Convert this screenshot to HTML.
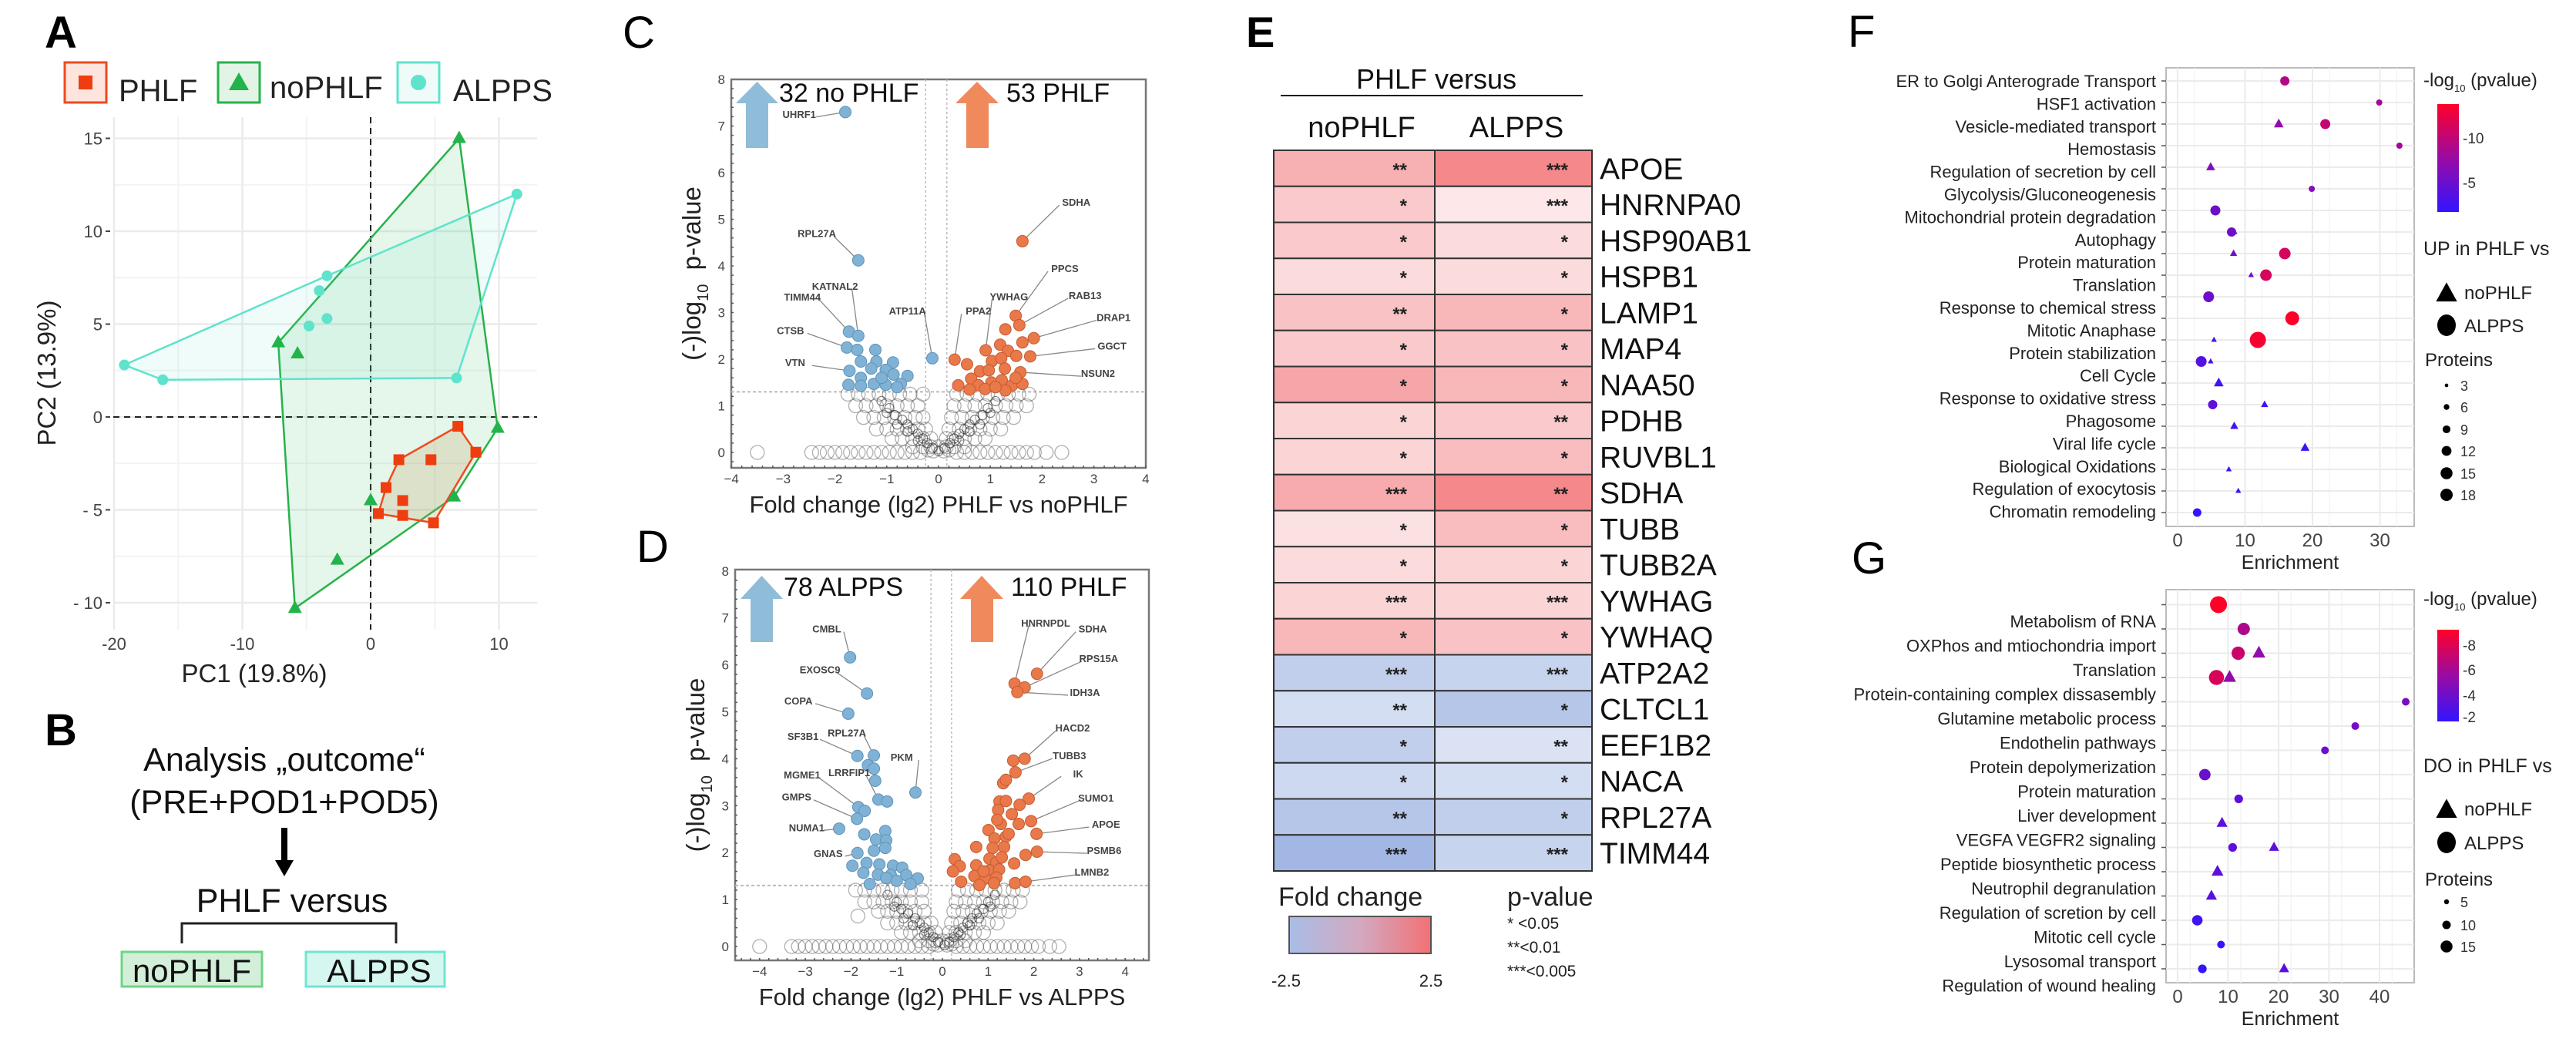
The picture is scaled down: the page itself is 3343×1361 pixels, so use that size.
<!DOCTYPE html>
<html><head><meta charset="utf-8">
<style>
html,body{margin:0;padding:0;background:#fff;}
svg{display:block;font-family:"Liberation Sans",Arial,sans-serif;}
</style></head>
<body>
<svg id="fig" xmlns="http://www.w3.org/2000/svg" width="3343" height="1361" viewBox="0 0 3343 1361">
<rect x="0" y="0" width="3343" height="1361" fill="#fff"/>
<text x="58" y="62" font-size="58" font-weight="bold">A</text>
<text x="58" y="967" font-size="58" font-weight="bold">B</text>
<text x="808" y="62" font-size="58">C</text>
<text x="826" y="729" font-size="58">D</text>
<text x="1617" y="61" font-size="56" font-weight="bold">E</text>
<text x="2398" y="61" font-size="58">F</text>
<text x="2403" y="744" font-size="58">G</text>

<g>
<rect x="84" y="81" width="54" height="52" fill="#fde4dc" stroke="#ee4a1f" stroke-width="3"/>
<rect x="102" y="98" width="18" height="18" fill="#ee3d0f"/>
<text x="154" y="131" font-size="40" fill="#222">PHLF</text>
<rect x="283" y="81" width="54" height="52" fill="#e2f4e6" stroke="#27b24a" stroke-width="3"/>
<polygon points="310,94 297,117 323,117" fill="#22b34a"/>
<text x="350" y="127" font-size="40" fill="#222">noPHLF</text>
<rect x="516" y="81" width="54" height="52" fill="#eefbf8" stroke="#5fe3cc" stroke-width="3"/>
<circle cx="543" cy="107" r="10" fill="#5fe3cc"/>
<text x="588" y="131" font-size="40" fill="#222">ALPPS</text>
</g>
<g id="pcaPlot"></g>
<text x="330" y="885" font-size="33" fill="#222" text-anchor="middle">PC1 (19.8%)</text>
<text transform="translate(72,484) rotate(-90)" font-size="33" fill="#222" text-anchor="middle">PC2 (13.9%)</text>

<g>
<text x="369" y="1000" font-size="43" fill="#111" text-anchor="middle">Analysis „outcome“</text>
<text x="369" y="1055" font-size="43" fill="#111" text-anchor="middle">(PRE+POD1+POD5)</text>
<rect x="365" y="1074" width="8" height="44" fill="#000"/>
<polygon points="357,1116 381,1116 369,1137" fill="#000"/>
<text x="379" y="1183" font-size="43" fill="#111" text-anchor="middle">PHLF versus</text>
<polyline points="236,1224 236,1198 514,1198 514,1224" fill="none" stroke="#222" stroke-width="3"/>
<rect x="158" y="1235" width="182" height="45" fill="#d3efd9" stroke="#6fd486" stroke-width="3"/>
<text x="249" y="1274" font-size="42" fill="#111" text-anchor="middle">noPHLF</text>
<rect x="397" y="1235" width="180" height="45" fill="#d6f6f0" stroke="#6fe6d2" stroke-width="3"/>
<text x="492" y="1274" font-size="42" fill="#111" text-anchor="middle">ALPPS</text>
</g>

<g id="volC"></g>
<g id="volD"></g>

<text x="1864" y="115" font-size="36" fill="#111" text-anchor="middle">PHLF versus</text>
<line x1="1662" y1="124" x2="2054" y2="124" stroke="#111" stroke-width="2"/>
<g id="heat"></g>
<defs>
<linearGradient id="fcgrad" x1="0" x2="1" y1="0" y2="0"><stop offset="0" stop-color="#a9bde6"/><stop offset="0.5" stop-color="#d3a9c0"/><stop offset="1" stop-color="#f27175"/></linearGradient>
<linearGradient id="pgrad" x1="0" x2="0" y1="1" y2="0"><stop offset="0" stop-color="#3214ff"/><stop offset="0.5" stop-color="#9a0aa4"/><stop offset="1" stop-color="#ff0028"/></linearGradient>
</defs>
<g>
<text x="1659" y="1175" font-size="34" fill="#222">Fold change</text>
<rect x="1673" y="1189" width="184" height="48" fill="url(#fcgrad)" stroke="#555" stroke-width="2"/>
<text x="1669" y="1280" font-size="22" fill="#222" text-anchor="middle">-2.5</text>
<text x="1857" y="1280" font-size="22" fill="#222" text-anchor="middle">2.5</text>
</g>
<g>
<text x="1956" y="1175" font-size="34" fill="#222">p-value</text>
<text x="1956" y="1205" font-size="21" fill="#222">* &lt;0.05</text>
<text x="1956" y="1236" font-size="21" fill="#222">**&lt;0.01</text>
<text x="1956" y="1267" font-size="21" fill="#222">***&lt;0.005</text>
</g>

<g id="dotF"></g>
<g id="dotG"></g>
</svg>

<script>
const pcaPhlfX = [6.8, 8.2, 2.2, 4.7, 1.2, 2.5, 0.6, 2.5, 4.9];
const pcaPhlfY = [-0.5, -1.9, -2.3, -2.3, -3.8, -4.5, -5.2, -5.3, -5.7];
const pcaNoX = [6.9, -7.2, -5.7, 9.9, 0.0, 6.5, -2.6, -5.9];
const pcaNoY = [15.0, 4.0, 3.4, -0.6, -4.5, -4.3, -7.7, -10.3];
const pcaAlX = [-19.2, -16.2, -3.4, -4.0, -3.4, -4.8, 6.7, 11.4];
const pcaAlY = [2.8, 2.0, 7.6, 6.8, 5.3, 4.9, 2.1, 12.0];
const hullPhlf = [0, 1, 8, 6, 4, 2];
const hullNo = [0, 3, 5, 7, 1];
const hullAl = [0, 2, 7, 6, 1];
const pcaXTicks = [-20, -10, 0, 10];
const pcaYTicks = [-10, -5, 0, 5, 10, 15];

const cBlue = [[-1.8,7.3],[-1.55,4.12],[-1.73,2.59],[-1.55,2.5],[-1.77,2.25],[-1.57,2.2],[-1.22,2.2],[-1.5,1.95],[-1.2,1.95],[-0.88,1.93],[-1.72,1.75],[-1.3,1.8],[-1.02,1.77],[-1.5,1.6],[-0.87,1.67],[-0.6,1.64],[-1.74,1.45],[-1.5,1.43],[-1.25,1.47],[-1.02,1.45],[-0.73,1.47],[-0.12,2.02],[-1.1,1.6],[-0.8,1.4]];
const cOrange = [[1.62,4.53],[1.49,2.93],[1.56,2.73],[1.29,2.64],[1.84,2.45],[1.62,2.36],[1.19,2.31],[0.91,2.19],[1.34,2.18],[1.5,2.07],[1.77,2.06],[0.31,1.99],[1.03,1.96],[1.21,2.02],[0.55,1.89],[1.28,1.8],[0.8,1.74],[0.97,1.76],[1.58,1.72],[0.38,1.44],[0.63,1.58],[0.77,1.44],[1.02,1.5],[1.22,1.55],[1.42,1.44],[1.62,1.47],[0.9,1.36],[1.29,1.33],[1.49,1.6],[1.1,1.4],[0.6,1.35]];
const cGray = [[-3.5,0],[-2.45,0],[-2.3,0],[-2.15,0],[-2.0,0],[-1.85,0],[-1.7,0],[-1.55,0],[-1.4,0],[-1.25,0],[-1.1,0],[-0.95,0],[-0.8,0],[-0.65,0],[-0.5,0],[-0.35,0],[0.35,0],[0.5,0],[0.65,0],[0.8,0],[0.95,0],[1.1,0],[1.25,0],[1.4,0],[1.55,0],[1.7,0],[1.85,0],[2.08,0],[2.38,0],
[-1.75,1.25],[-1.55,1.25],[-1.35,1.25],[-1.15,1.25],[-0.95,1.25],[-0.75,1.25],[-0.55,1.25],[-0.3,1.25],[0.35,1.25],[0.55,1.25],[0.75,1.25],[0.95,1.25],[1.15,1.25],[1.35,1.25],[1.55,1.25],[1.75,1.25],
[-1.6,1.0],[-1.4,1.0],[-1.2,1.0],[-1.0,1.0],[-0.8,1.0],[-0.6,1.0],[-0.4,1.0],[0.3,1.0],[0.5,1.0],[0.7,1.0],[0.9,1.0],[1.1,1.0],[1.3,1.0],[1.5,1.0],[1.7,1.0],
[-1.45,0.75],[-1.25,0.75],[-1.05,0.75],[-0.85,0.75],[-0.65,0.75],[-0.45,0.75],[-0.3,0.75],[0.25,0.75],[0.45,0.75],[0.65,0.75],[0.85,0.75],[1.05,0.75],[1.25,0.75],[1.45,0.75],
[-1.2,0.5],[-1.0,0.5],[-0.8,0.5],[-0.6,0.5],[-0.4,0.5],[-0.25,0.5],[0.2,0.5],[0.4,0.5],[0.6,0.5],[0.8,0.5],[1.0,0.5],[1.2,0.5],
[-0.9,0.3],[-0.7,0.3],[-0.5,0.3],[-0.3,0.3],[-0.15,0.3],[0.15,0.3],[0.3,0.3],[0.5,0.3],[0.7,0.3],[0.9,0.3],
[-0.5,0.12],[-0.3,0.12],[-0.15,0.12],[0,0.12],[0.15,0.12],[0.3,0.12],[0.5,0.12],[-0.2,0.05],[-0.1,0.03],[0.1,0.03],[0.2,0.05]];
const cCore = [[-1.1,1.1],[-0.95,0.95],[-0.85,0.8],[-0.7,0.7],[-0.6,0.6],[-0.5,0.5],[-0.4,0.4],[-0.3,0.3],[-0.22,0.2],[-0.12,0.1],[0,0.03],[0.12,0.1],[0.22,0.2],[0.3,0.3],[0.4,0.4],[0.5,0.5],[0.6,0.6],[0.7,0.7],[0.85,0.8],[0.95,0.95],[1.1,1.1],[-0.6,0.45],[0.6,0.45],[-0.4,0.25],[0.4,0.25],[-0.8,0.6],[0.8,0.6],[-1.0,0.85],[1.0,0.85]];
const cLabText = ["UHRF1","RPL27A","KATNAL2","TIMM44","CTSB","VTN","ATP11A","PPA2","YWHAG","PPCS","RAB13","DRAP1","GGCT","NSUN2","SDHA"];
const cLabX = [-2.69,-2.35,-2.0,-2.63,-2.86,-2.77,-0.6,0.77,1.36,2.44,2.83,3.38,3.35,3.08,2.66];
const cLabY = [7.26,4.7,3.57,3.34,2.62,1.93,3.04,3.04,3.35,3.95,3.37,2.9,2.29,1.7,5.37];
const cTgtX = [-1.8,-1.55,-1.55,-1.73,-1.77,-1.72,-0.12,0.31,0.91,1.49,1.56,1.84,1.77,1.58,1.62];
const cTgtY = [7.3,4.12,2.5,2.59,2.25,1.75,2.02,1.99,2.19,2.93,2.73,2.45,2.06,1.72,4.53];

const dBlue = [[-2.02,6.16],[-1.65,5.39],[-2.06,4.96],[-1.86,4.06],[-1.5,4.07],[-1.63,3.86],[-1.5,3.79],[-1.47,3.53],[-1.4,3.13],[-1.21,3.09],[-0.59,3.28],[-1.84,2.97],[-1.7,2.89],[-1.87,2.72],[-2.26,2.51],[-1.71,2.39],[-1.25,2.46],[-1.45,2.28],[-1.23,2.26],[-1.86,1.99],[-1.5,2.04],[-1.25,2.1],[-1.97,1.72],[-1.66,1.78],[-1.38,1.75],[-1.08,1.72],[-0.88,1.68],[-1.73,1.57],[-1.41,1.53],[-1.13,1.52],[-0.79,1.52],[-0.54,1.45],[-1.59,1.33],[-0.7,1.33],[-1.23,1.46],[-1.0,1.4]];
const dOrange = [[1.58,5.6],[2.07,5.81],[1.8,5.52],[1.64,5.42],[1.55,3.96],[1.8,4.0],[1.6,3.71],[1.33,3.48],[1.39,3.55],[1.89,3.15],[1.25,3.09],[1.39,3.1],[1.69,3.02],[1.22,2.91],[1.52,2.82],[1.94,2.67],[1.67,2.61],[1.01,2.48],[1.28,2.61],[2.06,2.4],[1.14,2.3],[1.39,2.34],[0.74,2.12],[1.1,2.1],[1.35,2.12],[2.07,2.02],[1.82,1.95],[0.27,1.86],[1.03,1.87],[1.18,1.79],[1.57,1.77],[0.38,1.71],[0.74,1.73],[0.23,1.6],[1.03,1.62],[1.24,1.64],[0.7,1.5],[0.94,1.45],[1.18,1.47],[0.41,1.38],[1.59,1.35],[1.82,1.38],[0.81,1.31],[1.13,1.35],[1.3,1.9],[0.9,1.6],[1.45,2.4],[1.2,2.7]];
const dGray = [[-4.0,0],[-3.3,0],[-3.15,0],[-3.0,0],[-2.85,0],[-2.7,0],[-2.55,0],[-2.4,0],[-2.25,0],[-2.1,0],[-1.95,0],[-1.8,0],[-1.65,0],[-1.5,0],[-1.35,0],[-1.2,0],[-1.05,0],[-0.9,0],[-0.75,0],[-0.6,0],[-0.45,0],[-0.3,0],[0.3,0],[0.45,0],[0.6,0],[0.75,0],[0.9,0],[1.05,0],[1.2,0],[1.35,0],[1.5,0],[1.65,0],[1.8,0],[1.95,0],[2.1,0],[2.35,0],[2.55,0],
[-1.9,1.2],[-1.7,1.2],[-1.5,1.2],[-1.3,1.2],[-1.1,1.2],[-0.9,1.2],[-0.7,1.2],[-0.45,1.2],[0.35,1.2],[0.55,1.2],[0.75,1.2],[0.95,1.2],[1.15,1.2],[1.35,1.2],[1.55,1.2],[1.75,1.2],
[-1.7,0.95],[-1.5,0.95],[-1.3,0.95],[-1.1,0.95],[-0.9,0.95],[-0.7,0.95],[-0.45,0.95],[0.3,0.95],[0.5,0.95],[0.7,0.95],[0.9,0.95],[1.1,0.95],[1.3,0.95],[1.5,0.95],[1.7,0.95],
[-1.85,0.65],[-1.4,0.75],[-1.2,0.75],[-1.0,0.75],[-0.8,0.75],[-0.6,0.75],[-0.4,0.75],[0.25,0.75],[0.45,0.75],[0.65,0.75],[0.85,0.75],[1.05,0.75],[1.25,0.75],[1.45,0.75],
[-1.2,0.5],[-1.0,0.5],[-0.8,0.5],[-0.6,0.5],[-0.4,0.5],[-0.25,0.5],[0.2,0.5],[0.4,0.5],[0.6,0.5],[0.8,0.5],[1.0,0.5],[1.2,0.5],
[-0.9,0.3],[-0.7,0.3],[-0.5,0.3],[-0.3,0.3],[-0.15,0.3],[0.15,0.3],[0.3,0.3],[0.5,0.3],[0.7,0.3],[0.9,0.3],
[-0.5,0.12],[-0.3,0.12],[-0.15,0.12],[0,0.12],[0.15,0.12],[0.3,0.12],[0.5,0.12],[-0.2,0.05],[-0.1,0.03],[0.1,0.03],[0.2,0.05]];
const dCore = [[-1.2,1.1],[-1.0,0.95],[-0.9,0.8],[-0.75,0.7],[-0.6,0.6],[-0.5,0.5],[-0.4,0.4],[-0.3,0.3],[-0.2,0.2],[-0.1,0.1],[0.05,0.03],[0.15,0.1],[0.25,0.2],[0.35,0.3],[0.45,0.4],[0.55,0.5],[0.65,0.6],[0.75,0.7],[0.9,0.8],[1.0,0.95],[1.15,1.1],[-0.65,0.45],[0.6,0.45],[-0.4,0.25],[0.4,0.25],[-0.85,0.6],[0.8,0.6],[-1.05,0.85],[1.05,0.85]];
const dLabText = ["CMBL","EXOSC9","COPA","SF3B1","RPL27A","MGME1","LRRFIP1","GMPS","NUMA1","GNAS","PKM","HNRNPDL","SDHA","RPS15A","IDH3A","HACD2","TUBB3","IK","SUMO1","APOE","PSMB6","LMNB2"];
const dLabX = [-2.53,-2.68,-3.15,-3.05,-2.09,-3.07,-2.04,-3.19,-2.97,-2.5,-0.89,2.26,3.29,3.42,3.12,2.85,2.78,2.97,3.36,3.58,3.54,3.27];
const dLabY = [6.77,5.9,5.24,4.48,4.56,3.66,3.71,3.19,2.54,1.99,4.04,6.9,6.77,6.14,5.42,4.66,4.07,3.69,3.17,2.61,2.05,1.59];
const dTgtX = [-2.02,-1.65,-2.06,-1.86,-1.5,-1.84,-1.4,-1.87,-2.26,-1.86,-0.59,1.58,2.07,1.8,1.64,1.8,1.6,1.89,1.94,2.06,2.07,1.82];
const dTgtY = [6.16,5.39,4.96,4.06,4.07,2.97,3.13,2.72,2.51,1.99,3.28,5.6,5.81,5.52,5.42,4.0,3.71,3.15,2.67,2.4,2.02,1.38];
const volXTicks = [-4,-3,-2,-1,0,1,2,3,4];
const volYTicks = [0,1,2,3,4,5,6,7,8];

const heatGenes = ["APOE","HNRNPA0","HSP90AB1","HSPB1","LAMP1","MAP4","NAA50","PDHB","RUVBL1","SDHA","TUBB","TUBB2A","YWHAG","YWHAQ","ATP2A2","CLTCL1","EEF1B2","NACA","RPL27A","TIMM44"];
const heatNoPHLF = [1.3,0.9,0.9,0.6,1.0,0.9,1.5,0.7,0.7,1.4,0.5,0.6,0.7,1.2,-1.0,-0.7,-1.0,-0.8,-1.2,-1.5];
const heatALPPS = [2.0,0.4,0.6,0.6,1.2,1.0,1.2,0.9,1.1,2.0,1.1,0.7,0.7,1.0,-0.9,-1.2,-0.6,-0.7,-1.0,-0.9];
const starsNoPHLF = ["**","*","*","*","**","*","*","*","*","***","*","*","***","*","***","**","*","*","**","***"];
const starsALPPS = ["***","***","*","*","*","*","*","**","*","**","*","*","***","*","***","*","**","*","*","***"];

const fTerms = ["ER to Golgi Anterograde Transport","HSF1 activation","Vesicle-mediated transport","Hemostasis","Regulation of secretion by cell","Glycolysis/Gluconeogenesis","Mitochondrial protein degradation","Autophagy","Protein maturation","Translation","Response to chemical stress","Mitotic Anaphase","Protein stabilization","Cell Cycle","Response to oxidative stress","Phagosome","Viral life cycle","Biological Oxidations","Regulation of exocytosis","Chromatin remodeling"];
const fRow = [0,1,2,2,3,4,5,6,7,7,8,8,9,9,10,11,12,12,13,13,14,15,15,16,17,18,19,20];
const fEnrich = [15.9,29.9,15.0,21.9,32.9,4.9,19.9,5.6,8.0,8.4,8.3,15.9,10.9,13.1,4.6,17.0,5.4,11.9,3.5,4.9,6.1,5.2,12.9,8.4,18.9,7.6,9.0,2.9];
const fShape = ["c","c","t","c","c","t","c","c","c","t","t","c","t","c","c","c","t","c","c","t","t","c","t","t","t","t","t","c"];
const fLogP = [9,8,7,10,8,6,6,5,5,5,5,11,5,11,5,13.5,3,13,3.5,3,2.5,4,2.5,2.5,2,2,2,1.5];
const fProteins = [8,4,8,9,4,7,4,9,8,4,5,11,3,11,10,14,3,17,10,3,8,8,5,6,7,3,3,7];
const fXTicks = [0,10,20,30];

const gTerms = ["Metabolism of RNA","OXPhos and mtiochondria import","Translation","Protein-containing complex dissasembly","Glutamine metabolic process","Endothelin pathways","Protein depolymerization","Protein maturation","Liver development","VEGFA VEGFR2 signaling","Peptide biosynthetic process","Neutrophil degranulation","Regulation of scretion by cell","Mitotic cell cycle","Lysosomal transport","Regulation of wound healing"];
const gRow = [0,1,2,2,3,3,4,5,6,7,8,9,10,10,11,12,13,14,15,15];
const gEnrich = [8.1,13.1,12.0,16.1,7.7,10.3,45.2,35.2,29.2,5.4,12.1,8.8,10.9,19.1,7.9,6.7,3.9,8.6,4.9,21.1];
const gShape = ["c","c","c","t","c","t","c","c","c","c","c","t","c","t","t","t","c","c","c","t"];
const gLogP = [9,6,7,5,7.5,5,4,4,3.5,3.5,3,3,3,3,3,3,2,1.5,1.5,3];
const gProteins = [15,10,11,10,13,10,5,5,5,9,6,8,6,7,9,8,8,5,6,7];
const gXTicks = [0,10,20,30,40];

const NS = "http://www.w3.org/2000/svg";
function mk(tag, attrs, parent){
  const e = document.createElementNS(NS, tag);
  for (const k in attrs) e.setAttribute(k, attrs[k]);
  parent.appendChild(e);
  return e;
}
function txt(str, attrs, parent){
  const e = mk("text", attrs, parent);
  e.textContent = str;
  return e;
}

(function(){
  const g = document.getElementById("pcaPlot");
  const L=147,R=697,T=152,B=817;
  const sx=v=>481+v*16.65, sy=v=>541-v*24.1;
  const bg = mk("rect",{x:L,y:T,width:R-L,height:B-T,fill:"#fff"},g);
  
  
  [-15,-5,5].forEach(v=>{
    const l=mk("line",{x1:sx(v),x2:sx(v),y1:T,y2:B,stroke:"#f3f3f3","stroke-width":2},g);
    
    
  });
  [-7.5,-2.5,2.5,7.5,12.5].forEach(v=>{
    const l=mk("line",{x1:L,x2:R,y1:sy(v),y2:sy(v),stroke:"#f3f3f3","stroke-width":2},g);
    
    
  });
  pcaXTicks.forEach(v=>{
    const l=mk("line",{x1:sx(v),x2:sx(v),y1:T,y2:B,stroke:"#ebebeb","stroke-width":2.5},g);
    
    
    const t=txt(String(v),{x:sx(v),y:843,"font-size":22,fill:"#444","text-anchor":"middle"},g);
    
    
  });
  pcaYTicks.forEach(v=>{
    const l=mk("line",{x1:L,x2:R,y1:sy(v),y2:sy(v),stroke:"#ebebeb","stroke-width":2.5},g);
    
    
    const tk=mk("line",{x1:L-10,x2:L-4,y1:sy(v),y2:sy(v),stroke:"#444","stroke-width":2},g);
    
    
    const t=txt(String(v).replace("-","- "),{x:L-14,y:sy(v)+8,"font-size":22,fill:"#444","text-anchor":"end"},g);
    
    
  });
  const d1=mk("line",{x1:sx(0),x2:sx(0),y1:T,y2:B,stroke:"#222","stroke-width":2,"stroke-dasharray":"8,6"},g);
  
  
  const d2=mk("line",{x1:L,x2:R,y1:sy(0),y2:sy(0),stroke:"#222","stroke-width":2,"stroke-dasharray":"8,6"},g);
  
  
  function hull(xs,ys,idx,fill,stroke,name){
    const pts=idx.map(i=>sx(xs[i])+","+sy(ys[i])).join(" ");
    const p=mk("polygon",{points:pts,fill:fill,stroke:stroke,"stroke-width":2.5},g);
    
    
  }
  hull(pcaNoX,pcaNoY,hullNo,"rgba(40,180,80,0.12)","#27b24a","hull-nophlf");
  hull(pcaAlX,pcaAlY,hullAl,"rgba(95,224,200,0.10)","#5fe3cc","hull-alpps");
  hull(pcaPhlfX,pcaPhlfY,hullPhlf,"rgba(190,150,90,0.22)","#ee4a1f","hull-phlf");
  pcaAlX.forEach((v,i)=>{
    const c=mk("circle",{cx:sx(v),cy:sy(pcaAlY[i]),r:7,fill:"#5fe3cc"},g);
    
    
  });
  pcaNoX.forEach((v,i)=>{
    const x=sx(v),y=sy(pcaNoY[i]);
    const p=mk("polygon",{points:`${x},${y-10} ${x-9},${y+6} ${x+9},${y+6}`,fill:"#22b34a"},g);
    
    
  });
  pcaPhlfX.forEach((v,i)=>{
    const r=mk("rect",{x:sx(v)-7,y:sy(pcaPhlfY[i])-7,width:14,height:14,fill:"#ee3d0f"},g);
    
    
  });
})();

function drawVolcano(o){
  const g=document.getElementById(o.id);
  const sx=v=>o.x0+v*o.kx, sy=v=>o.y0-v*o.ky;
  const fr=mk("rect",{x:o.L,y:o.T,width:o.R-o.L,height:o.B-o.T,fill:"#fff",stroke:"#777","stroke-width":2.5},g);
  
  
  for(let v=-4.4;v<=4.5;v+=0.2){
    if(sx(v)<o.L||sx(v)>o.R) continue;
    const t=mk("line",{x1:sx(v),x2:sx(v),y1:o.B,y2:o.B-3,stroke:"#555","stroke-width":1.5},g);
    
    
  }
  for(let v=-0.2;v<=8;v+=0.2){
    const t=mk("line",{x1:o.L,x2:o.L+3,y1:sy(v),y2:sy(v),stroke:"#555","stroke-width":1.5},g);
    
    
  }
  volXTicks.forEach(v=>{
    const t=txt(v<0?"\u2212"+(-v):String(v),{x:sx(v),y:o.B+20,"font-size":17,fill:"#444","text-anchor":"middle"},g);
    
    
  });
  volYTicks.forEach(v=>{
    const t=txt(String(v),{x:o.L-8,y:sy(v)+6,"font-size":17,fill:"#444","text-anchor":"end"},g);
    
    
  });
  o.vlines.forEach(v=>{
    const l=mk("line",{x1:sx(v),x2:sx(v),y1:o.T,y2:o.B,stroke:"#bbb","stroke-width":1.5,"stroke-dasharray":"3,3"},g);
    
    
  });
  const hl=mk("line",{x1:o.L,x2:o.R,y1:sy(1.3),y2:sy(1.3),stroke:"#bbb","stroke-width":2,"stroke-dasharray":"4,3"},g);
  
  
  o.gray.forEach(p=>{
    const c=mk("circle",{cx:sx(p[0]),cy:sy(p[1]),r:9,fill:"none",stroke:"rgba(80,80,80,0.45)","stroke-width":1.3},g);
    
    
  });
  o.core.forEach(p=>{
    const c=mk("circle",{cx:sx(p[0]),cy:sy(p[1]),r:6,fill:"none",stroke:"rgba(30,30,30,0.55)","stroke-width":1.2},g);
    
    
  });
  o.labText.forEach((s,i)=>{
    const l=mk("line",{x1:sx(o.labX[i])+(o.labX[i]<o.tgtX[i]?22:-22),y1:sy(o.labY[i])+4,x2:sx(o.tgtX[i]),y2:sy(o.tgtY[i]),stroke:"#888","stroke-width":1.3},g);
    
    
  });
  o.blue.forEach(p=>{
    const c=mk("circle",{cx:sx(p[0]),cy:sy(p[1]),r:7.5,fill:"#7fb2d5",stroke:"#5f93b8","stroke-width":1},g);
    
    
  });
  o.orange.forEach(p=>{
    const c=mk("circle",{cx:sx(p[0]),cy:sy(p[1]),r:7.5,fill:"#e9784a",stroke:"#c55c2e","stroke-width":1},g);
    
    
  });
  o.labText.forEach((s,i)=>{
    const t=txt(s,{x:sx(o.labX[i]),y:sy(o.labY[i])+5,"font-size":13,"font-weight":"bold",fill:"#444","text-anchor":"middle"},g);
    
    
  });
  const a=o.arrows;
  const ab=mk("polygon",{points:`${a.bl},${a.hb} ${a.bl+55},${a.hb} ${a.bl+27.5},${a.top} `,fill:"#8fbcd8"},g);
  
  
  const as=mk("rect",{x:a.bl+13,y:a.hb-1,width:29,height:a.bot-a.hb,fill:"#8fbcd8"},g);
  
  
  const ob=mk("polygon",{points:`${a.ol},${a.hb} ${a.ol+56},${a.hb} ${a.ol+28},${a.top}`,fill:"#f08a5d"},g);
  
  
  const os=mk("rect",{x:a.ol+14,y:a.hb-1,width:29,height:a.bot-a.hb,fill:"#f08a5d"},g);
  
  
  const t1=txt(o.leftText,{x:a.bl+56,y:a.top+26,"font-size":34,fill:"#111","xml:space":"preserve"},g);
  
  
  const t2=txt(o.rightText,{x:a.ol+66,y:a.top+26,"font-size":34,fill:"#111","xml:space":"preserve"},g);
  
  
  const xt=txt(o.xTitle,{x:(o.L+o.R)/2,y:o.B+58,"font-size":31,fill:"#222","text-anchor":"middle"},g);
  
  
  const yt=mk("text",{transform:`translate(${o.L-40},${(o.T+o.B)/2}) rotate(-90)`,"font-size":33,fill:"#222","text-anchor":"middle"},g);
  
  
  yt.innerHTML='(-)log<tspan font-size="20" dy="10">10</tspan><tspan dy="-10" xml:space="preserve">  p-value</tspan>';
}
drawVolcano({id:"volC",L:949,R:1487,T:103,B:607,x0:1218,kx:67.2,y0:587,ky:60.5,vlines:[-0.25,0.16],
  gray:cGray,core:cCore,blue:cBlue,orange:cOrange,labText:cLabText,labX:cLabX,labY:cLabY,tgtX:cTgtX,tgtY:cTgtY,
  arrows:{bl:955,ol:1240,top:106,hb:134,bot:193},leftText:"32  no PHLF",rightText:"53  PHLF",xTitle:"Fold change (lg2) PHLF vs noPHLF"});
drawVolcano({id:"volD",L:954,R:1491,T:739,B:1246,x0:1223,kx:59.3,y0:1228,ky:60.9,vlines:[-0.25,0.2],
  gray:dGray,core:dCore,blue:dBlue,orange:dOrange,labText:dLabText,labX:dLabX,labY:dLabY,tgtX:dTgtX,tgtY:dTgtY,
  arrows:{bl:961,ol:1246,top:747,hb:777,bot:834},leftText:"78  ALPPS",rightText:"110  PHLF",xTitle:"Fold change (lg2) PHLF vs ALPPS"});

(function(){
  const g=document.getElementById("heat");
  const L=1653,M=1862,R=2066,T=195,H=(1130-195)/heatGenes.length;
  function col(v){
    const t=Math.min(1,Math.abs(v)/2.5);
    const c=v>=0?[240,98,102]:[136,163,219];
    const k=v>=0?t*0.95:t*1.3;
    const mix=c.map(x=>Math.round(255+(x-255)*Math.min(1,k)));
    return `rgb(${mix[0]},${mix[1]},${mix[2]})`;
  }
  const h1=txt("noPHLF",{x:1767,y:178,"font-size":38,fill:"#111","text-anchor":"middle"},g);
  
  
  const h2=txt("ALPPS",{x:1968,y:178,"font-size":38,fill:"#111","text-anchor":"middle"},g);
  
  
  heatGenes.forEach((gene,i)=>{
    const y=T+i*H;
    const c1=mk("rect",{x:L,y:y,width:M-L,height:H,fill:col(heatNoPHLF[i]),stroke:"#333","stroke-width":2},g);
    
    
    const c2=mk("rect",{x:M,y:y,width:R-M,height:H,fill:col(heatALPPS[i]),stroke:"#333","stroke-width":2},g);
    
    
    const s1=txt(starsNoPHLF[i],{x:1826,y:y+H/2+10,"font-size":24,"font-weight":"bold",fill:"#222","text-anchor":"end"},g);
    
    
    const s2=txt(starsALPPS[i],{x:2035,y:y+H/2+10,"font-size":24,"font-weight":"bold",fill:"#222","text-anchor":"end"},g);
    
    
    const lb=txt(gene,{x:2076,y:y+H/2+14,"font-size":39,fill:"#111"},g);
    
    
  });
})();

function pcol(t){
  t=Math.max(0,Math.min(1,t));
  let a,b,u;
  if(t<0.5){a=[50,20,255];b=[154,10,164];u=t/0.5;}else{a=[154,10,164];b=[255,0,40];u=(t-0.5)/0.5;}
  const c=a.map((x,i)=>Math.round(x+(b[i]-x)*u));
  return `rgb(${c[0]},${c[1]},${c[2]})`;
}
function shape(g,kind,x,y,r,fill){
  let e;
  if(kind==="c") e=mk("circle",{cx:x,cy:y,r:r,fill:fill},g);
  else e=mk("polygon",{points:`${x},${y-r*1.2} ${x-r*1.05},${y+r*0.7} ${x+r*1.05},${y+r*0.7}`,fill:fill},g);
  return e;
}
function drawDot(o){
  const g=document.getElementById(o.id);
  const sx=v=>o.x0+v*o.kx;
  const fr=mk("rect",{x:o.L,y:o.T,width:o.R-o.L,height:o.B-o.T,fill:"#fff",stroke:"#bbb","stroke-width":2},g);
  
  
  o.ticks.forEach((v,i)=>{
    const m=mk("line",{x1:sx(v+o.step/2),x2:sx(v+o.step/2),y1:o.T,y2:o.B,stroke:"#f4f4f4","stroke-width":1.5},g);
    
    
    const l=mk("line",{x1:sx(v),x2:sx(v),y1:o.T,y2:o.B,stroke:"#ebebeb","stroke-width":2},g);
    
    
    const t=txt(String(v),{x:sx(v),y:o.B+26,"font-size":24,fill:"#444","text-anchor":"middle"},g);
    
    
  });
  for(let i=0;i<o.nRows;i++){
    const y=o.rowY0+i*o.rowH;
    const l=mk("line",{x1:o.L,x2:o.R,y1:y,y2:y,stroke:"#ebebeb","stroke-width":2},g);
    
    
    const tk=mk("line",{x1:o.L-6,x2:o.L,y1:y,y2:y,stroke:"#555","stroke-width":1.5},g);
    
    
  }
  o.terms.forEach((s,i)=>{
    const t=txt(s,{x:o.L-13,y:o.labY0+i*o.labH+8,"font-size":22,fill:"#222","text-anchor":"end"},g);
    
    
  });
  o.enrich.forEach((v,i)=>{
    const e=shape(g,o.shape[i],sx(v),o.rowY0+o.row[i]*o.rowH,2+o.rk*o.prot[i],pcol((o.logp[i]-o.pmin)/(o.pmax-o.pmin)));
    
    
  });
  const xt=txt("Enrichment",{x:(o.L+o.R)/2,y:o.B+55,"font-size":25,fill:"#222","text-anchor":"middle"},g);
  
  
  const lt=mk("text",{x:3145,y:o.legY,"font-size":24,fill:"#222"},g);
  
  
  lt.innerHTML='-log<tspan font-size="13" dy="7">10</tspan><tspan dy="-7"> (pvalue)</tspan>';
  const cb=mk("rect",{x:3163,y:o.cbT,width:28,height:o.cbB-o.cbT,fill:"url(#pgrad)"},g);
  
  
  o.cbLabels.forEach((s,i)=>{
    const t=txt(s,{x:3196,y:o.cbLabY[i]+7,"font-size":19,fill:"#333"},g);
    
    
  });
  const st=txt(o.shapeTitle,{x:3145,y:o.shY+9,"font-size":25,fill:"#222"},g);
  
  
  const tr=shape(g,"t",3175,o.triY+3,13,"#000");
  
  
  const tl=txt("noPHLF",{x:3198,y:o.triY+9,"font-size":24,fill:"#222"},g);
  
  
  const ce=mk("ellipse",{cx:3175,cy:o.cirY,rx:12,ry:14,fill:"#000"},g);
  
  
  const cl=txt("ALPPS",{x:3198,y:o.cirY+9,"font-size":24,fill:"#222"},g);
  
  
  const pt=txt("Proteins",{x:3147,y:o.protY+8,"font-size":24,fill:"#222"},g);
  
  
  o.sizeVals.forEach((n,i)=>{
    const c=mk("circle",{cx:3175,cy:o.sizeY[i],r:Math.min(8,1+0.45*n),fill:"#000"},g);
    
    
    const t=txt(String(n),{x:3193,y:o.sizeY[i]+7,"font-size":18,fill:"#333"},g);
    
    
  });
}
drawDot({id:"dotF",L:2811,R:3133,T:88,B:683,x0:2826,kx:8.75,step:5,ticks:fXTicks,nRows:21,rowY0:105,rowH:28.0,
  labY0:105,labH:29.4,terms:fTerms,enrich:fEnrich,shape:fShape,row:fRow,prot:fProteins,logp:fLogP,pmin:1.5,pmax:13.5,rk:0.5,
  legY:112,cbT:135,cbB:275,cbLabels:["-10","-5"],cbLabY:[179,237],shapeTitle:"UP in PHLF vs",shY:322,triY:379,cirY:422,
  protY:467,sizeVals:[3,6,9,12,15,18],sizeY:[500,528,557,585,614,642]});
drawDot({id:"dotG",L:2811,R:3133,T:765,B:1275,x0:2826,kx:6.55,step:5,ticks:gXTicks,nRows:16,rowY0:784.5,rowH:31.5,
  labY0:806,labH:31.5,terms:gTerms,enrich:gEnrich,shape:gShape,row:gRow,prot:gProteins,logp:gLogP,pmin:1.5,pmax:9,rk:0.6,
  legY:785,cbT:817,cbB:936,cbLabels:["-8","-6","-4","-2"],cbLabY:[837,869,902,930],shapeTitle:"DO in PHLF vs",shY:993,triY:1049,cirY:1093,
  protY:1141,sizeVals:[5,10,15],sizeY:[1170,1200,1228]});
</script>
</body></html>
